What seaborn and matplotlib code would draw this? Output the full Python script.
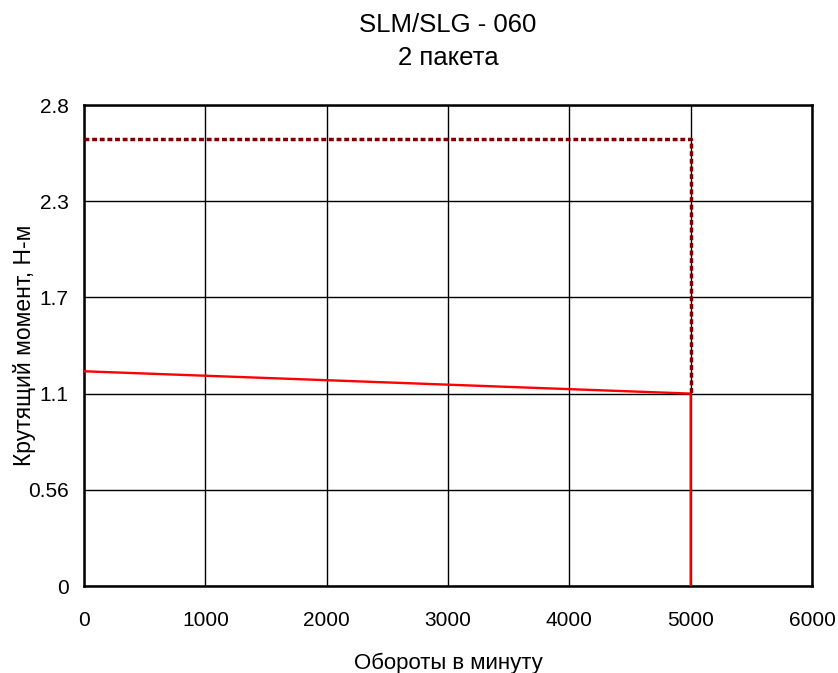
import matplotlib
matplotlib.use("Agg")
import matplotlib.pyplot as plt
import seaborn as sns
import pandas as pd

# Data
speed_cont = [0, 5000, 5000]
torque_cont = [1.25, 1.12, 0.0]
speed_peak = [0, 5000, 5000]
torque_peak = [2.6, 2.6, 1.12]
x_ticks = [0, 1000, 2000, 3000, 4000, 5000, 6000]
y_ticks = [0, 0.56, 1.12, 1.68, 2.24, 2.8]
y_tick_labels = ["0", "0.56", "1.1", "1.7", "2.3", "2.8"]

sns.set_theme(style="white")
plt.rcParams['font.family'] = ['Liberation Sans', 'DejaVu Sans']

fig = plt.figure(figsize=(8.38, 6.73), dpi=100)
ax = fig.add_axes([84/838, 1 - 586/673, (812-84)/838, (586-105)/673])

df_cont = pd.DataFrame({"x": speed_cont, "y": torque_cont})
df_peak = pd.DataFrame({"x": speed_peak, "y": torque_peak})

sns.lineplot(data=df_cont, x="x", y="y", sort=False, estimator=None, ax=ax,
             color="#ff0000", linewidth=1.7, zorder=3)
sns.lineplot(data=df_peak, x="x", y="y", sort=False, estimator=None, ax=ax,
             color="#800000", linewidth=2.5, dashes=False, zorder=4)
ax.lines[-1].set_dashes((1.4, 0.8))

ax.set_xlim(0, 6000)
ax.set_ylim(0, 2.8)
ax.set_xticks(x_ticks)
ax.set_xticklabels([str(v) for v in x_ticks])
ax.set_yticks(y_ticks)
ax.set_yticklabels(y_tick_labels)
ax.grid(True, color="black", linewidth=1.0)
ax.set_axisbelow(True)
for s in ax.spines.values():
    s.set_color("black")
    s.set_linewidth(1.8)
ax.tick_params(axis="both", length=0, labelsize=15, colors="black")
ax.tick_params(axis="x", pad=18)
ax.tick_params(axis="y", pad=11)

ax.set_xlabel("Обороты в минуту", fontsize=16, color="black")
ax.xaxis.set_label_coords(0.5, (586 - 663) / 481)
ax.xaxis.label.set_va("center")
ax.set_ylabel("Крутящий момент, Н-м", fontsize=16.5, color="black")
ax.yaxis.set_label_coords((24 - 84) / 728, 0.5)
ax.yaxis.label.set_va("center")
ax.set_title("SLM/SLG - 060\n2 пакета", fontsize=18.5, color="black", pad=29, linespacing=1.45)

fig.savefig("out.png", dpi=100)
